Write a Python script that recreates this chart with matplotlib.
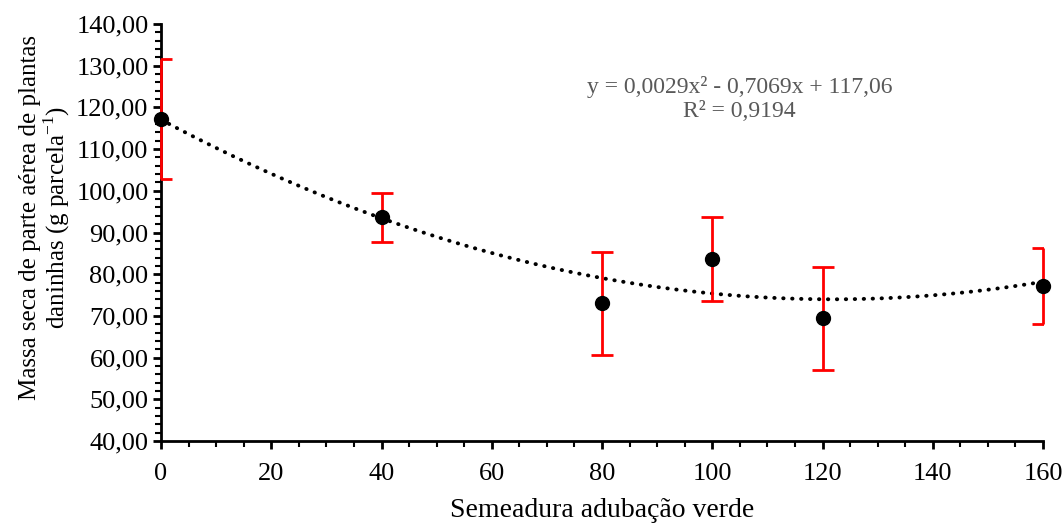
import numpy as np
import matplotlib
matplotlib.use('Agg')
import matplotlib.pyplot as plt
from matplotlib.ticker import MultipleLocator, FuncFormatter

# dados
doses = [0, 40, 80, 100, 120, 160]
massa = [117.2, 93.6, 73.0, 83.6, 69.4, 77.2]
erro = [14.4, 5.8, 12.4, 10.1, 12.3, 9.2]
# coeficientes da linha de tendência (polinomial 2a ordem)
coef = [0.0029, -0.7069, 117.06]

plt.rcParams['font.family'] = ['Liberation Serif', 'DejaVu Serif']
plt.rcParams['mathtext.fontset'] = 'custom'
plt.rcParams['mathtext.rm'] = 'Liberation Serif'

fig = plt.figure(figsize=(10.63, 5.24), dpi=100)
ax = fig.add_axes([161 / 1063, 1 - 441 / 524, (1043 - 161) / 1063, (441 - 24) / 524])

# linha de tendência
xs = np.linspace(0, 160, 300)
ax.plot(xs, np.polyval(coef, xs), color='black', linestyle=(0, (0.1, 2.2)),
        linewidth=2.8, dash_capstyle='round', zorder=2)

# barras de erro (as tampas nas bordas ficam cortadas, como no original)
eb = ax.errorbar(doses, massa, yerr=erro, fmt='none', ecolor='#ff0000',
                 elinewidth=2, capsize=8, capthick=2, zorder=3)
for col in eb.lines[2]:
    col.set_clip_on(False)
ax.plot(doses, massa, 'o', color='black', markersize=10, zorder=4, clip_on=False)

ax.set_xlim(0, 160)
ax.set_ylim(40, 140)
ax.xaxis.set_major_locator(MultipleLocator(20))
ax.xaxis.set_minor_locator(MultipleLocator(5))
ax.yaxis.set_major_locator(MultipleLocator(10))
ax.yaxis.set_minor_locator(MultipleLocator(2))
ax.yaxis.set_major_formatter(FuncFormatter(lambda v, p: f'{v:.2f}'.replace('.', ',')))

for s in ['top', 'right']:
    ax.spines[s].set_visible(False)
for s in ['left', 'bottom']:
    ax.spines[s].set_linewidth(2)

ax.tick_params(which='major', direction='out', length=6, width=2, labelsize=19, pad=10)
ax.tick_params(which='minor', direction='out', length=4, width=1.5)
ax.tick_params(axis='y', which='major', pad=3)

ax.set_xlabel('Semeadura adubação verde', fontsize=20, labelpad=9)
ax.set_ylabel('Massa seca de parte aérea de plantas\ndaninhas (g parcela$^{\\mathrm{-1}}$)',
              fontsize=18, linespacing=1.0)
ax.yaxis.set_label_coords(-0.101, 0.535)

ax.text(0.656, 0.82, 'y = 0,0029x² - 0,7069x + 117,06\nR² = 0,9194',
        transform=ax.transAxes, ha='center', va='center', fontsize=17,
        color='#595959', linespacing=1.2)

plt.savefig('out.png', dpi=100)
plt.close()
